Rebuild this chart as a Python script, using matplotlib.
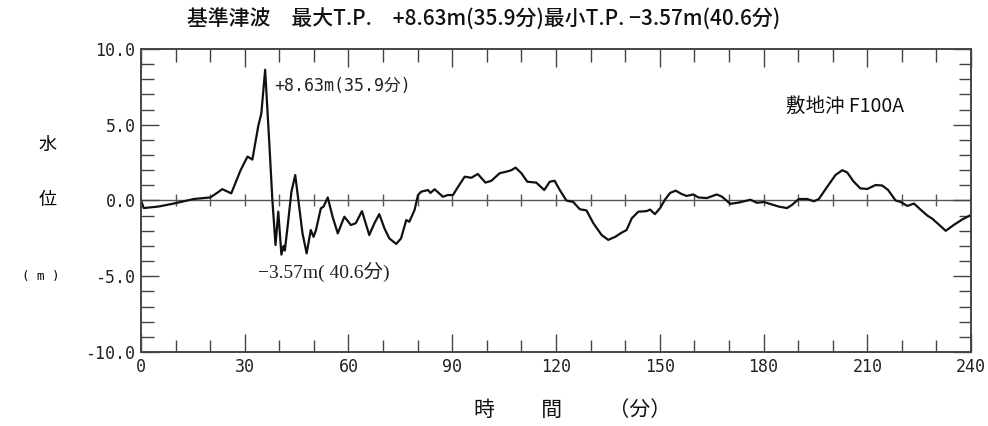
import numpy as np
import matplotlib
matplotlib.use("Agg")
import matplotlib.pyplot as plt
from matplotlib.ticker import MultipleLocator

# time (min) and water level (m)
time_min = [0, 0.8, 5, 9.5, 15.3, 20, 22, 23.5, 26.1, 28.8, 30.8, 32.2, 33.9, 34.8,
            35.9, 37.1, 38.0, 38.9, 39.7, 40.6, 41.2, 41.6, 42.5, 43.5, 44.6, 45.3,
            46.7, 47.9, 49.1, 49.9, 50.6, 52.0, 52.8, 54.0, 55.4, 56.9, 58.8, 60.7,
            62.1, 63.9, 66.0, 67.5, 68.9, 70.4, 71.8, 73.8, 75.2, 76.7, 77.6, 79.1,
            80.1, 81.0, 83.0, 83.7, 84.9, 87.3, 88.7, 90.2, 91.7, 93.6, 95.5, 97.4,
            99.6, 101.3, 103.7, 105.6, 107.1, 108.3, 110.0, 111.7, 114.3, 116.6,
            118.2, 119.6, 121.1, 123.0, 125.0, 126.9, 128.8, 130.8, 133.2, 135.1,
            137.1, 139.0, 140.4, 141.9, 143.8, 146.2, 147.2, 148.6, 150.1, 151.5,
            153.0, 154.6, 156.3, 157.8, 159.7, 161.2, 163.6, 166.5, 168.0, 170.4,
            172.8, 176.2, 178.1, 180.1, 181.5, 184.4, 186.8, 188.2, 190.2, 192.6,
            194.6, 196.0, 198.4, 200.8, 202.8, 204.2, 206.1, 208.0, 210.0, 212.4,
            214.3, 216.0, 218.2, 219.7, 221.6, 223.5, 225.4, 227.4, 228.8, 232.7,
            235.1, 237.5, 240]
level_m = [0.0, -0.5, -0.4, -0.2, 0.1, 0.2, 0.5, 0.75, 0.47, 2.0, 2.9, 2.7, 4.9, 5.75,
           8.63, 3.8, 0.0, -2.94, -0.74, -3.57, -3.0, -3.3, -1.5, 0.58, 1.68, 0.4,
           -2.17, -3.49, -1.95, -2.4, -1.95, -0.52, -0.4, 0.2, -1.07, -2.17, -1.07, -1.62,
           -1.5, -0.7, -2.28, -1.5, -0.9, -1.84, -2.5, -2.87, -2.5, -1.29, -1.4, -0.63,
           0.36, 0.58, 0.69, 0.5, 0.74, 0.25, 0.36, 0.36, 0.91, 1.57, 1.5, 1.75,
           1.18, 1.3, 1.8, 1.9, 2.0, 2.17, 1.8, 1.24, 1.18, 0.69,
           1.24, 1.3, 0.69, 0.0, -0.1, -0.58, -0.65, -1.5, -2.28, -2.6,
           -2.4, -2.12, -1.95, -1.18, -0.74, -0.7, -0.6, -0.9, -0.5, 0.05,
           0.5, 0.65, 0.43, 0.3, 0.4, 0.2, 0.16, 0.4, 0.25, -0.22,
           -0.14, 0.05, -0.15, -0.1, -0.2, -0.4, -0.5, -0.3, 0.1, 0.1,
           -0.05, 0.1, 0.9, 1.68, 2.0, 1.85, 1.24, 0.8, 0.76, 1.02,
           0.99, 0.7, 0.0, -0.1, -0.36, -0.2, -0.6, -1.0, -1.2, -2.0,
           -1.6, -1.25, -0.95]

x_ticks = [0, 30, 60, 90, 120, 150, 180, 210, 240]
y_ticks = [-10, -5, 0, 5, 10]
zero_marks = list(range(10, 240, 10))

max_t, max_h = 35.9, 8.63
min_t, min_h = 40.6, -3.57

JP = ['Noto Sans CJK JP', 'DejaVu Sans']
MONO = ['DejaVu Sans Mono', 'Noto Sans CJK JP']

fig = plt.figure(figsize=(9.88, 4.26), dpi=100)
ax = fig.add_axes([0.1427, 0.1737, 0.8401, 0.7113])

# zero line with small tick marks
ax.axhline(0, color='#555555', lw=1.0, zorder=1)
ax.plot(zero_marks, [0] * len(zero_marks), ls='none', marker='|',
        ms=8.5, mew=1.0, color='#555555', zorder=1)

ax.plot(time_min, level_m, color='#111111', lw=1.6, zorder=2)

ax.set_xlim(0, 240)
ax.set_ylim(-10, 10)
ax.set_xticks(x_ticks)
ax.set_yticks(y_ticks)
ax.xaxis.set_minor_locator(MultipleLocator(10))
ax.yaxis.set_minor_locator(MultipleLocator(1))
ax.set_xticklabels([str(v) for v in x_ticks], family=MONO, fontsize=12, color='#222222')
ax.set_yticklabels([f'{v:.1f}' for v in y_ticks], family=MONO, fontsize=12, color='#222222')
ax.tick_params(which='both', direction='in', top=True, right=True,
               color='#444444', width=1.0)
ax.tick_params(which='major', length=13, pad=4)
ax.tick_params(which='minor', length=9)
for s in ax.spines.values():
    s.set_color('#444444')
    s.set_linewidth(1.4)

ax.text(max_t + 2.5, max_h - 1.07, f'+{max_h:.2f}m({max_t}分)', family=MONO,
        fontsize=12, va='center', ha='left', color='#222222')
ax.text(min_t - 6.8, min_h - 1.15, f'{min_h:.2f}m( {min_t}分)'.replace('-', '\u2212'),
        family=['Liberation Serif', 'Noto Sans CJK JP'], fontsize=14,
        va='center', ha='left', color='#222222')
ax.text(0.92, 0.81, '敷地沖 F100A', transform=ax.transAxes, family=JP,
        fontsize=14, ha='right', va='center', color='#111111')

fig.text(0.49, 0.953, f'基準津波　最大T.P.　+{max_h:.2f}m({max_t}分)最小T.P. \u2212{abs(min_h):.2f}m({min_t}分)',
         family=JP, fontsize=15, fontweight='medium', ha='center', va='center',
         color='#111111')
fig.text(0.048, 0.66, '水', family=JP, fontsize=13, ha='center', va='center')
fig.text(0.048, 0.53, '位', family=JP, fontsize=13, ha='center', va='center')
fig.text(0.041, 0.352, '( m )', family=MONO, fontsize=9, ha='center', va='center')
fig.text(0.58, 0.038, '時　　 間　　 （分）', family=JP, fontsize=15,
         ha='center', va='center', color='#111111')

fig.savefig('out.png', dpi=100)
